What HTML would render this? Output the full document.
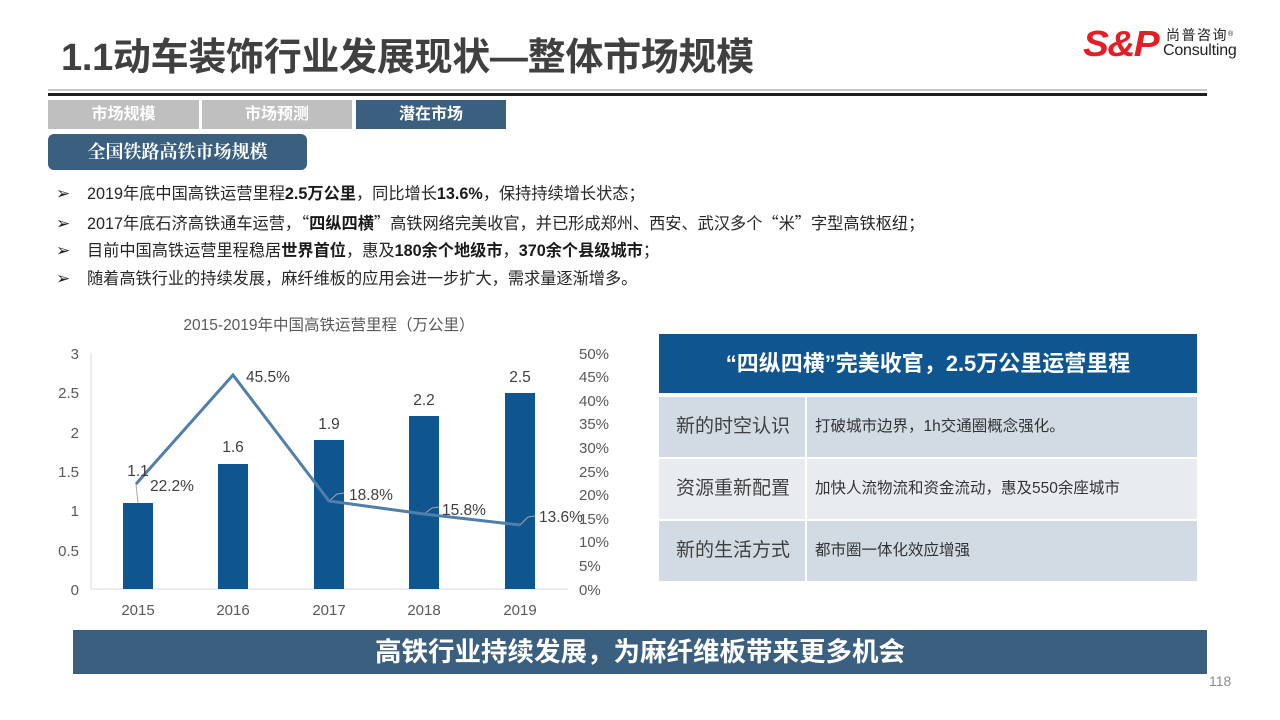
<!DOCTYPE html>
<html><head><meta charset="utf-8">
<style>
*{margin:0;padding:0;box-sizing:border-box}
body{width:1280px;height:720px;background:#fff;position:relative;overflow:hidden;font-family:"Liberation Sans","Noto Sans CJK SC",sans-serif;color:#333}
.abs{position:absolute}
.title{left:61px;top:26px;font-size:38px;font-weight:bold;color:#404040;white-space:nowrap;letter-spacing:-0.3px}
.tab{top:100px;height:29px;line-height:29px;color:#fff;font-weight:bold;font-size:16px;text-align:center}
.box{left:48px;top:134px;width:259px;height:36px;background:#3a5f7f;border-radius:6px;color:#fff;font-family:"Liberation Serif","Noto Serif CJK SC",serif;font-weight:bold;font-size:18px;text-align:center;line-height:36px}
.bl{left:56px;font-size:16.2px;white-space:nowrap;color:#262626;height:20px;line-height:20px}
.bl .ar{font-family:"DejaVu Sans",sans-serif;font-size:17px;display:inline-block;width:31px;color:#222}
.bl b{font-weight:bold;color:#1a1a1a}
.q{font-family:"Noto Sans CJK SC",sans-serif;line-height:20px}
.th{left:659px;top:334px;width:538px;height:59px;background:#0f5590;color:#fff;font-weight:bold;font-size:22px;text-align:center;line-height:59px;white-space:nowrap}
.rowL{left:659px;width:146px;height:60px;line-height:60px;font-size:19px;color:#404040;padding-left:17px;white-space:nowrap}
.rowR{left:807px;width:390px;height:60px;line-height:60px;font-size:15.5px;color:#333;padding-left:8px;white-space:nowrap}
.c1{background:#d2dae3}.c2{background:#e8ecf1}
.banner{left:73px;top:630px;width:1134px;height:44px;background:#3a5f7f;color:#fff;font-weight:bold;font-size:26.5px;text-align:center;line-height:44px;white-space:nowrap}
</style></head><body>

<div class="abs title">1.1动车装饰行业发展现状—整体市场规模</div>

<div class="abs" style="left:1083px;top:24px;font-size:36px;font-weight:900;font-style:italic;color:#e41e26;letter-spacing:-1.5px;line-height:40px;transform:scaleX(1.08);transform-origin:left">S&amp;P</div>
<div class="abs" style="left:1166px;top:27px;font-size:14px;color:#222;letter-spacing:1.5px;line-height:16px">尚普咨询<span style="font-size:7px;vertical-align:top">®</span></div>
<div class="abs" style="left:1163px;top:42px;font-size:16px;color:#222;line-height:18px;letter-spacing:-0.2px">Consulting</div>

<div class="abs" style="left:48px;top:89px;width:1159px;height:2px;background:#c8c8c8"></div>
<div class="abs" style="left:48px;top:93px;width:1159px;height:2.5px;background:#1e1e1e"></div>

<div class="abs tab" style="left:48px;width:151px;background:#bfbfbf">市场规模</div>
<div class="abs tab" style="left:202px;width:150px;background:#bfbfbf">市场预测</div>
<div class="abs tab" style="left:356px;width:150px;background:#3a5f7f">潜在市场</div>

<div class="abs box">全国铁路高铁市场规模</div>

<div class="abs bl" style="top:184px"><span class="ar">➢</span>2019年底中国高铁运营里程<b>2.5万公里</b>，同比增长<b>13.6%</b>，保持持续增长状态；</div>
<div class="abs bl" style="top:212px"><span class="ar">➢</span>2017年底石济高铁通车运营，<span class="q">“</span><b>四纵四横</b><span class="q">”</span>高铁网络完美收官，并已形成郑州、西安、武汉多个<span class="q">“</span>米<span class="q">”</span>字型高铁枢纽；</div>
<div class="abs bl" style="top:241px"><span class="ar">➢</span>目前中国高铁运营里程稳居<b>世界首位</b>，惠及<b>180余个地级市</b>，<b>370余个县级城市</b>；</div>
<div class="abs bl" style="top:269px"><span class="ar">➢</span>随着高铁行业的持续发展，麻纤维板的应用会进一步扩大，需求量逐渐增多。</div>

<svg class="abs" style="left:0;top:0" width="1280" height="720" xmlns="http://www.w3.org/2000/svg">
  <g font-family="Liberation Sans, Noto Sans CJK SC, sans-serif">
  <text x="329" y="330" font-size="15.5" fill="#595959" text-anchor="middle">2015-2019年中国高铁运营里程（万公里）</text>
  <line x1="91" y1="353" x2="91" y2="589" stroke="#d9d9d9" stroke-width="1"/>
  <line x1="91" y1="589" x2="568" y2="589" stroke="#d9d9d9" stroke-width="1"/>
  <g font-size="15" fill="#595959" text-anchor="end">
    <text x="79" y="359">3</text>
    <text x="79" y="398">2.5</text>
    <text x="79" y="438">2</text>
    <text x="79" y="477">1.5</text>
    <text x="79" y="516">1</text>
    <text x="79" y="556">0.5</text>
    <text x="79" y="595">0</text>
  </g>
  <g font-size="15" fill="#595959">
    <text x="579" y="359">50%</text>
    <text x="579" y="382">45%</text>
    <text x="579" y="406">40%</text>
    <text x="579" y="429">35%</text>
    <text x="579" y="453">30%</text>
    <text x="579" y="477">25%</text>
    <text x="579" y="500">20%</text>
    <text x="579" y="524">15%</text>
    <text x="579" y="547">10%</text>
    <text x="579" y="571">5%</text>
    <text x="579" y="595">0%</text>
  </g>
  <g fill="#0f5590">
    <rect x="123" y="503" width="30" height="86"/>
    <rect x="218" y="464" width="30" height="125"/>
    <rect x="314" y="440" width="30" height="149"/>
    <rect x="409" y="416" width="30" height="173"/>
    <rect x="505" y="393" width="30" height="196"/>
  </g>
  <g font-size="15" fill="#595959" text-anchor="middle">
    <text x="138" y="615">2015</text>
    <text x="233" y="615">2016</text>
    <text x="329" y="615">2017</text>
    <text x="424" y="615">2018</text>
    <text x="520" y="615">2019</text>
  </g>
  <g stroke="#a6a6a6" stroke-width="1" fill="none">
    <polyline points="136,484 138,503"/>
    <polyline points="329,501 337,494 344,493"/>
    <polyline points="424,514 432,508 439,507"/>
    <polyline points="520,525 528,517 535,516"/>
  </g>
  <polyline points="136,484 233,375 329,501 424,514 520,525" fill="none" stroke="#4f7faa" stroke-width="3" stroke-linejoin="miter"/>
  <g font-size="15.5" fill="#404040">
    <text x="138" y="476" text-anchor="middle">1.1</text>
    <text x="233" y="452" text-anchor="middle">1.6</text>
    <text x="329" y="429" text-anchor="middle">1.9</text>
    <text x="424" y="405" text-anchor="middle">2.2</text>
    <text x="520" y="382" text-anchor="middle">2.5</text>
    <text x="150" y="491">22.2%</text>
    <text x="246" y="382">45.5%</text>
    <text x="349" y="500">18.8%</text>
    <text x="442" y="515">15.8%</text>
    <text x="539" y="522">13.6%</text>
  </g>
  </g>
</svg>

<div class="abs th">“四纵四横”完美收官，2.5万公里运营里程</div>
<div class="abs rowL c1" style="top:397px">新的时空认识</div>
<div class="abs rowR c1" style="top:397px">打破城市边界，1h交通圈概念强化。</div>
<div class="abs rowL c2" style="top:459px">资源重新配置</div>
<div class="abs rowR c2" style="top:459px">加快人流物流和资金流动，惠及550余座城市</div>
<div class="abs rowL c1" style="top:521px">新的生活方式</div>
<div class="abs rowR c1" style="top:521px">都市圈一体化效应增强</div>

<div class="abs banner">高铁行业持续发展，为麻纤维板带来更多机会</div>
<div class="abs" style="left:1209px;top:673px;font-size:14px;color:#8c8c8c">118</div>

</body></html>
